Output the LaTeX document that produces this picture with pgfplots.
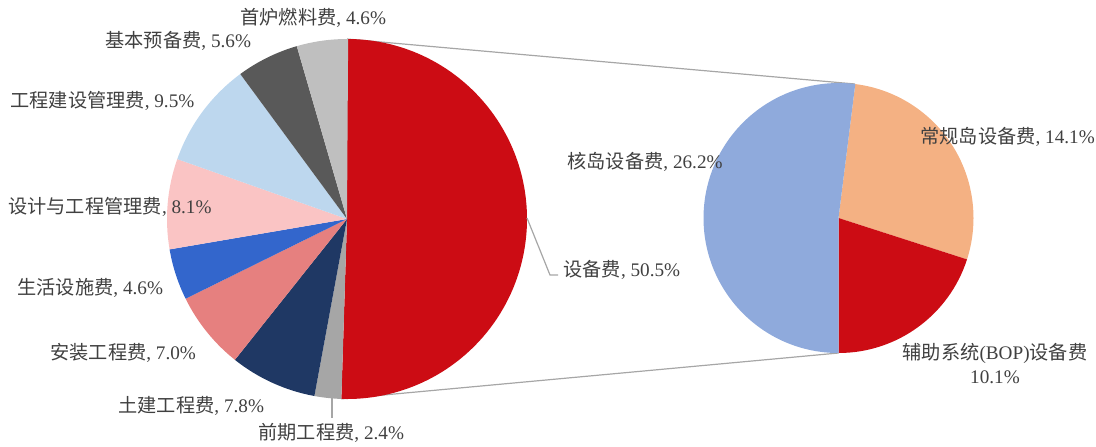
\documentclass[border=0pt]{standalone}
\usepackage{pgfplots}
\usepackage{pgfplotstable}
\pgfplotsset{compat=1.18}
\usepackage{fontspec}
\setmainfont{Liberation Serif}
\newfontfamily\cjk{Noto Sans CJK SC}
\newcommand{\zh}[1]{{\cjk #1}}
\definecolor{cRed}{RGB}{204,12,20}
\definecolor{cGrayA}{RGB}{166,166,166}
\definecolor{cNavy}{RGB}{31,56,100}
\definecolor{cSalmon}{RGB}{230,128,127}
\definecolor{cBlue}{RGB}{51,102,204}
\definecolor{cPink}{RGB}{250,196,196}
\definecolor{cLBlue}{RGB}{189,215,238}
\definecolor{cDGray}{RGB}{89,89,89}
\definecolor{cLGray}{RGB}{191,191,191}
\definecolor{cPBlue}{RGB}{143,170,220}
\definecolor{cOrange}{RGB}{244,177,131}
\definecolor{txt}{RGB}{64,64,64}
\definecolor{lin}{RGB}{166,166,166}
\tikzset{lbl/.style={font=\fontsize{9.6}{12}\selectfont, text=txt, inner sep=0pt}}

% main pie: clockwise from 12 o'clock
\pgfplotstableread{
v col
50.5 cRed
2.4 cGrayA
7.8 cNavy
7.0 cSalmon
4.6 cBlue
8.1 cPink
9.5 cLBlue
5.6 cDGray
4.6 cLGray
}\mainpie
% secondary pie (share of 设备费 50.4)
\pgfplotstableread{
v col
14.1 cOrange
10.1 cRed
26.2 cPBlue
}\subpie

\begin{document}
\begin{tikzpicture}
\begin{axis}[name=ax, hide axis, scale only axis, x=0.5pt, y=0.5pt,
  xmin=0, xmax=1096, ymin=0, ymax=446, y dir=reverse, clip=false]
% connector lines
\addplot[lin, line width=0.6pt] coordinates {(347,39) (855,84)};
\addplot[lin, line width=0.6pt] coordinates {(341.3,398.9) (838.5,353)};
% main pie
\gdef\sang{90}
\pgfplotsforeachungrouped \i in {0,...,8}{%
  \pgfplotstablegetelem{\i}{v}\of\mainpie \let\val\pgfplotsretval
  \pgfplotstablegetelem{\i}{col}\of\mainpie \let\col\pgfplotsretval
  \pgfmathsetmacro\eang{\sang-\val*3.6}%
  \edef\tmp{\noexpand\fill[\col] (axis cs:347,219) -- ++(\sang:90pt) arc[start angle=\sang, end angle=\eang, radius=90pt] -- cycle;}%
  \tmp
  \xdef\sang{\eang}%
}
% secondary pie
\gdef\sang{82.86}
\pgfplotsforeachungrouped \i in {0,...,2}{%
  \pgfplotstablegetelem{\i}{v}\of\subpie \let\val\pgfplotsretval
  \pgfplotstablegetelem{\i}{col}\of\subpie \let\col\pgfplotsretval
  \pgfmathsetmacro\eang{\sang-\val/50.4*360}%
  \edef\tmp{\noexpand\fill[\col] (axis cs:838.5,218) -- ++(\sang:67.5pt) arc[start angle=\sang, end angle=\eang, radius=67.5pt] -- cycle;}%
  \tmp
  \xdef\sang{\eang}%
}
% leader lines
\addplot[lin, line width=0.6pt] coordinates {(527,218) (550,275) (558,275)};
\addplot[lin, line width=0.6pt] coordinates {(332,398) (332,418)};
% labels
\node[lbl, anchor=west] at (axis cs:240,18) {\zh{首炉燃料费}, 4.6\%};
\node[lbl, anchor=west] at (axis cs:105,41) {\zh{基本预备费}, 5.6\%};
\node[lbl, anchor=west] at (axis cs:10,101) {\zh{工程建设管理费}, 9.5\%};
\node[lbl, anchor=west] at (axis cs:8,207) {\zh{设计与工程管理费}, 8.1\%};
\node[lbl, anchor=west] at (axis cs:17,288) {\zh{生活设施费}, 4.6\%};
\node[lbl, anchor=west] at (axis cs:50,353) {\zh{安装工程费}, 7.0\%};
\node[lbl, anchor=west] at (axis cs:118,406) {\zh{土建工程费}, 7.8\%};
\node[lbl, anchor=west] at (axis cs:258,433) {\zh{前期工程费}, 2.4\%};
\node[lbl, anchor=west] at (axis cs:563,270) {\zh{设备费}, 50.5\%};
\node[lbl, anchor=west] at (axis cs:567,162) {\zh{核岛设备费}, 26.2\%};
\node[lbl, anchor=west] at (axis cs:920,137) {\zh{常规岛设备费}, 14.1\%};
\node[lbl, align=center] at (axis cs:995,364) {\zh{辅助系统}(BOP)\zh{设备费}\\10.1\%};
\end{axis}
\pgfresetboundingbox
\path (ax.south west) rectangle (ax.north east);
\end{tikzpicture}
\end{document}
